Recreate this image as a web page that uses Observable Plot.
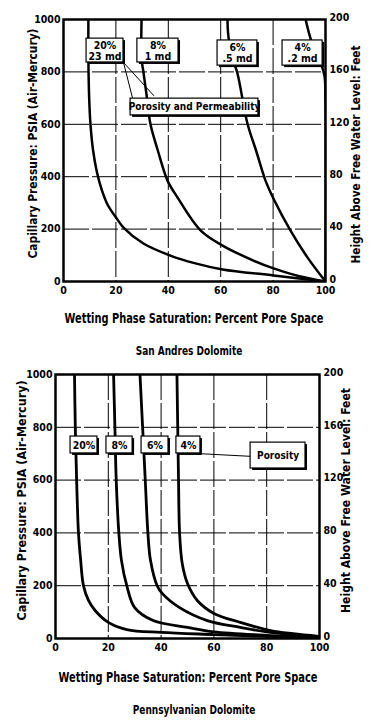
<!DOCTYPE html>
<html>
<head>
<meta charset="utf-8">
<script src="https://cdn.jsdelivr.net/npm/d3@7"></script>
<script src="https://cdn.jsdelivr.net/npm/@observablehq/plot@0.6"></script>
<style>
  html, body { margin: 0; padding: 0; background: #fff; }
  #page { position: relative; width: 375px; height: 726px; overflow: hidden; background: #fff;
    font-family: "DejaVu Sans Condensed", "DejaVu Sans", sans-serif; font-stretch: condensed; font-weight: bold; color: #000; }
  .chart { position: absolute; left: 0; }
  .caption { position: absolute; font-size: 12.5px; line-height: 1; text-align: center; white-space: nowrap; transform: translate(-50%, -50%) scaleX(0.8); }
  .xtitle { position: absolute; font-size: 13.5px; line-height: 1; text-align: center; white-space: nowrap; transform: translate(-50%, -50%) scaleX(0.81); }
</style>
</head>
<body>
<div id="page">
  <div id="c1" class="chart" style="top:0px"></div>
  <div id="x1" class="xtitle" style="left:194px; top:319px"></div>
  <div class="caption" style="left:189px; top:351px">San Andres Dolomite</div>
  <div id="c2" class="chart" style="top:362px"></div>
  <div id="x2" class="xtitle" style="left:188px; top:678px"></div>
  <div class="caption" style="left:194px; top:710px">Pennsylvanian Dolomite</div>
</div>
<script>
// ---------- Data (saturation %, capillary pressure psia) ----------
const xTicks = [0, 20, 40, 60, 80, 100];
const psiTicks = [0, 200, 400, 600, 800, 1000];
const heightTicks = [0, 40, 80, 120, 160, 200];   // feet, right axis
const psiPerFoot = 5;                               // 1000 psia ↔ 200 ft
const gridX = [20, 40, 60, 80];
const gridY = [200, 400, 600, 800];

const xLabel = "Wetting Phase Saturation: Percent Pore Space";
const yLabel = "Capillary Pressure: PSIA (Air-Mercury)";
const y2Label = "Height Above Free Water Level: Feet";

// San Andres Dolomite
const saPor20 = [[9.5,1000],[9.5,850],[9.8,700],[10.3,600],[11.3,500],[12.7,420],[14.6,350],[17,290],[20,245],[22.9,206],[30.5,145],[40.8,99],[50,70],[60.7,46],[80.2,23],[100,0]];
const saPor8  = [[29.8,1000],[29.8,850],[30.5,800],[32,690],[33.2,600],[36,500],[39.7,385],[43.5,321],[52.3,195],[60.7,137],[72.5,80],[80.2,50],[90,20],[100,0]];
const saPor6  = [[62.6,1000],[62.8,950],[64,870],[66.4,794],[70.2,603],[73.5,500],[77.1,385],[80.5,309],[86.6,195],[93.1,92],[100,0]];
const saPor4  = [[92.4,1000],[94.3,927],[96,880],[98.1,836],[99.6,786],[100,700],[100,0]];
const saLabels = ["20%\n23 md", "8%\n1 md", "6%\n.5 md", "4%\n.2 md"];
const saBoxX1 = [8.8, 28.2, 58.8, 83.6];
const saBoxX2 = [22.9, 43.9, 74, 98.9];
const saBoxY1 = [836, 836, 824, 824];
const saBoxY2 = [927, 927, 920, 920];
const saNote = "Porosity and Permeability";
const saNoteBox = [25.6, 74.4, 634, 698];
const saLeader = [[[22.9,836],[26.3,702]], [[22.9,836],[34.4,710]]];

// Pennsylvanian Dolomite
const pePor20 = [[7.2,1000],[7.5,800],[8,600],[8.7,400],[9.5,300],[10.6,200],[12.5,144],[15,106],[20,61],[27,34],[40,23],[60,15],[80,8],[100,2]];
const pePor8  = [[22,1000],[22.5,800],[23,600],[24,400],[25,295],[27,200],[30,117],[37,68],[50,42],[60,25],[80,12],[100,3]];
const pePor6  = [[32,1000],[33,800],[34,600],[35,400],[36,295],[38.5,200],[40.5,170],[47,117],[57.5,68],[70,42],[80,25],[100,5]];
const pePor4  = [[46,1000],[46.3,800],[46.6,600],[47,400],[48,284],[50,208],[53.7,144],[60,95],[70,61],[81.5,30],[90,18],[100,8]];
const peLabels = ["20%", "8%", "6%", "4%"];
const peBoxX1 = [5.7, 19.3, 32.6, 45.8];
const peBoxX2 = [15.9, 29.2, 42.8, 54.9];
const peBoxY1 = [701, 701, 701, 701];
const peBoxY2 = [765, 765, 765, 765];
const peNote = "Porosity";
const peNoteBox = [73.9, 94.7, 644, 742];
const peLeader = [[[54.9,700],[74,690]]];

// ---------- Drawing ----------
const FONT = '"DejaVu Sans Condensed", "DejaVu Sans", sans-serif';

function boxes(x1, x2, y1, y2, labels, fs) {
  const rows = labels.map((t, i) => ({t, x1: x1[i], x2: x2[i], y1: y1[i], y2: y2[i]}));
  return [
    Plot.rect(rows, {x1: "x1", x2: "x2", y1: "y1", y2: "y2", fill: "black", dx: 2, dy: 2}),
    Plot.rect(rows, {x1: "x1", x2: "x2", y1: "y1", y2: "y2", fill: "white", stroke: "black", strokeWidth: 1.2}),
    Plot.text(rows, {x: d => (d.x1 + d.x2) / 2, y: d => (d.y1 + d.y2) / 2, text: "t", fontSize: fs, lineHeight: 1.08, fill: "black", fontWeight: "bold"})
  ];
}

function squeeze(svg, label, length) {
  svg.querySelectorAll("text").forEach(t => {
    if (t.textContent === label) {
      t.setAttribute("textLength", length);
      t.setAttribute("lengthAdjust", "spacingAndGlyphs");
    }
  });
}

function chart(o) {
  const series = o.series.flatMap((s, k) => s.map(([x, y]) => ({x, y, k})));
  const svg = Plot.plot({
    width: 375, height: o.height,
    marginTop: o.mt, marginBottom: o.mb, marginLeft: o.ml, marginRight: o.mr,
    style: `font-family:${FONT};font-stretch:condensed;font-weight:bold;font-size:10.5px;background:white;color:black;overflow:visible;`,
    x: {domain: [0, 100]},
    y: {domain: [0, 1000]},
    marks: [
      Plot.ruleX(gridX, {stroke: "black", strokeWidth: 1, strokeDasharray: "26,3"}),
      Plot.ruleY(gridY, {stroke: "black", strokeWidth: 1, strokeDasharray: "26,3"}),
      Plot.line(series, {x: "x", y: "y", z: "k", stroke: "black", strokeWidth: o.lw, curve: "catmull-rom", clip: true}),
      ...o.leaders.map(l => Plot.line(l, {x: d => d[0], y: d => d[1], stroke: "black", strokeWidth: 1})),
      ...boxes(o.bx1, o.bx2, o.by1, o.by2, o.labels, 10.5),
      ...boxes([o.note[0]], [o.note[1]], [o.note[2]], [o.note[3]], [o.noteText], 10),
      Plot.frame({stroke: "black", strokeWidth: 2.5}),
      Plot.axisX({ticks: xTicks, tickSize: 0, tickPadding: 5, tickFormat: d => String(d), label: null, fontSize: 10.5}),
      Plot.axisY({anchor: "left", ticks: psiTicks, tickSize: 0, tickPadding: o.lpad, tickFormat: d => String(d), label: null, fontSize: 10.5}),
      Plot.axisY({anchor: "right", ticks: heightTicks.map(h => h * psiPerFoot), tickFormat: d => String(d / psiPerFoot), tickSize: 0, tickPadding: 4, dy: -2, label: null, fontSize: 10.5}),
      Plot.text([yLabel], {text: d => d, frameAnchor: "left", rotate: -90, dx: o.ydx, dy: o.ydy, lineAnchor: "middle", textAnchor: "middle", fontSize: 13, fontWeight: "bold"}),
      Plot.text([y2Label], {text: d => d, frameAnchor: "right", rotate: -90, dx: o.y2dx, dy: o.y2dy, lineAnchor: "middle", textAnchor: "middle", fontSize: 13, fontWeight: "bold"})
    ]
  });
  squeeze(svg, yLabel, o.ylen);
  squeeze(svg, y2Label, o.y2len);
  return svg;
}

document.getElementById("c1").append(chart({
  height: 330, mt: 19, mb: 49, ml: 63, mr: 50, lw: 2.5, lpad: 3,
  series: [saPor20, saPor8, saPor6, saPor4],
  leaders: saLeader,
  bx1: saBoxX1, bx2: saBoxX2, by1: saBoxY1, by2: saBoxY2, labels: saLabels,
  note: saNoteBox, noteText: saNote,
  ydx: -31, ydy: -7, y2dx: 30, y2dy: 4,
  ylen: 230, y2len: 218
}));
document.getElementById("x1").textContent = xLabel;

document.getElementById("c2").append(chart({
  height: 330, mt: 12, mb: 54, ml: 55, mr: 56, lw: 2.8, lpad: 3,
  series: [pePor20, pePor8, pePor6, pePor4],
  leaders: peLeader,
  bx1: peBoxX1, bx2: peBoxX2, by1: peBoxY1, by2: peBoxY2, labels: peLabels,
  note: peNoteBox, noteText: peNote,
  ydx: -34, ydy: -6, y2dx: 26, y2dy: -6,
  ylen: 240, y2len: 225
}));
document.getElementById("x2").textContent = xLabel;
</script>
</body>
</html>
